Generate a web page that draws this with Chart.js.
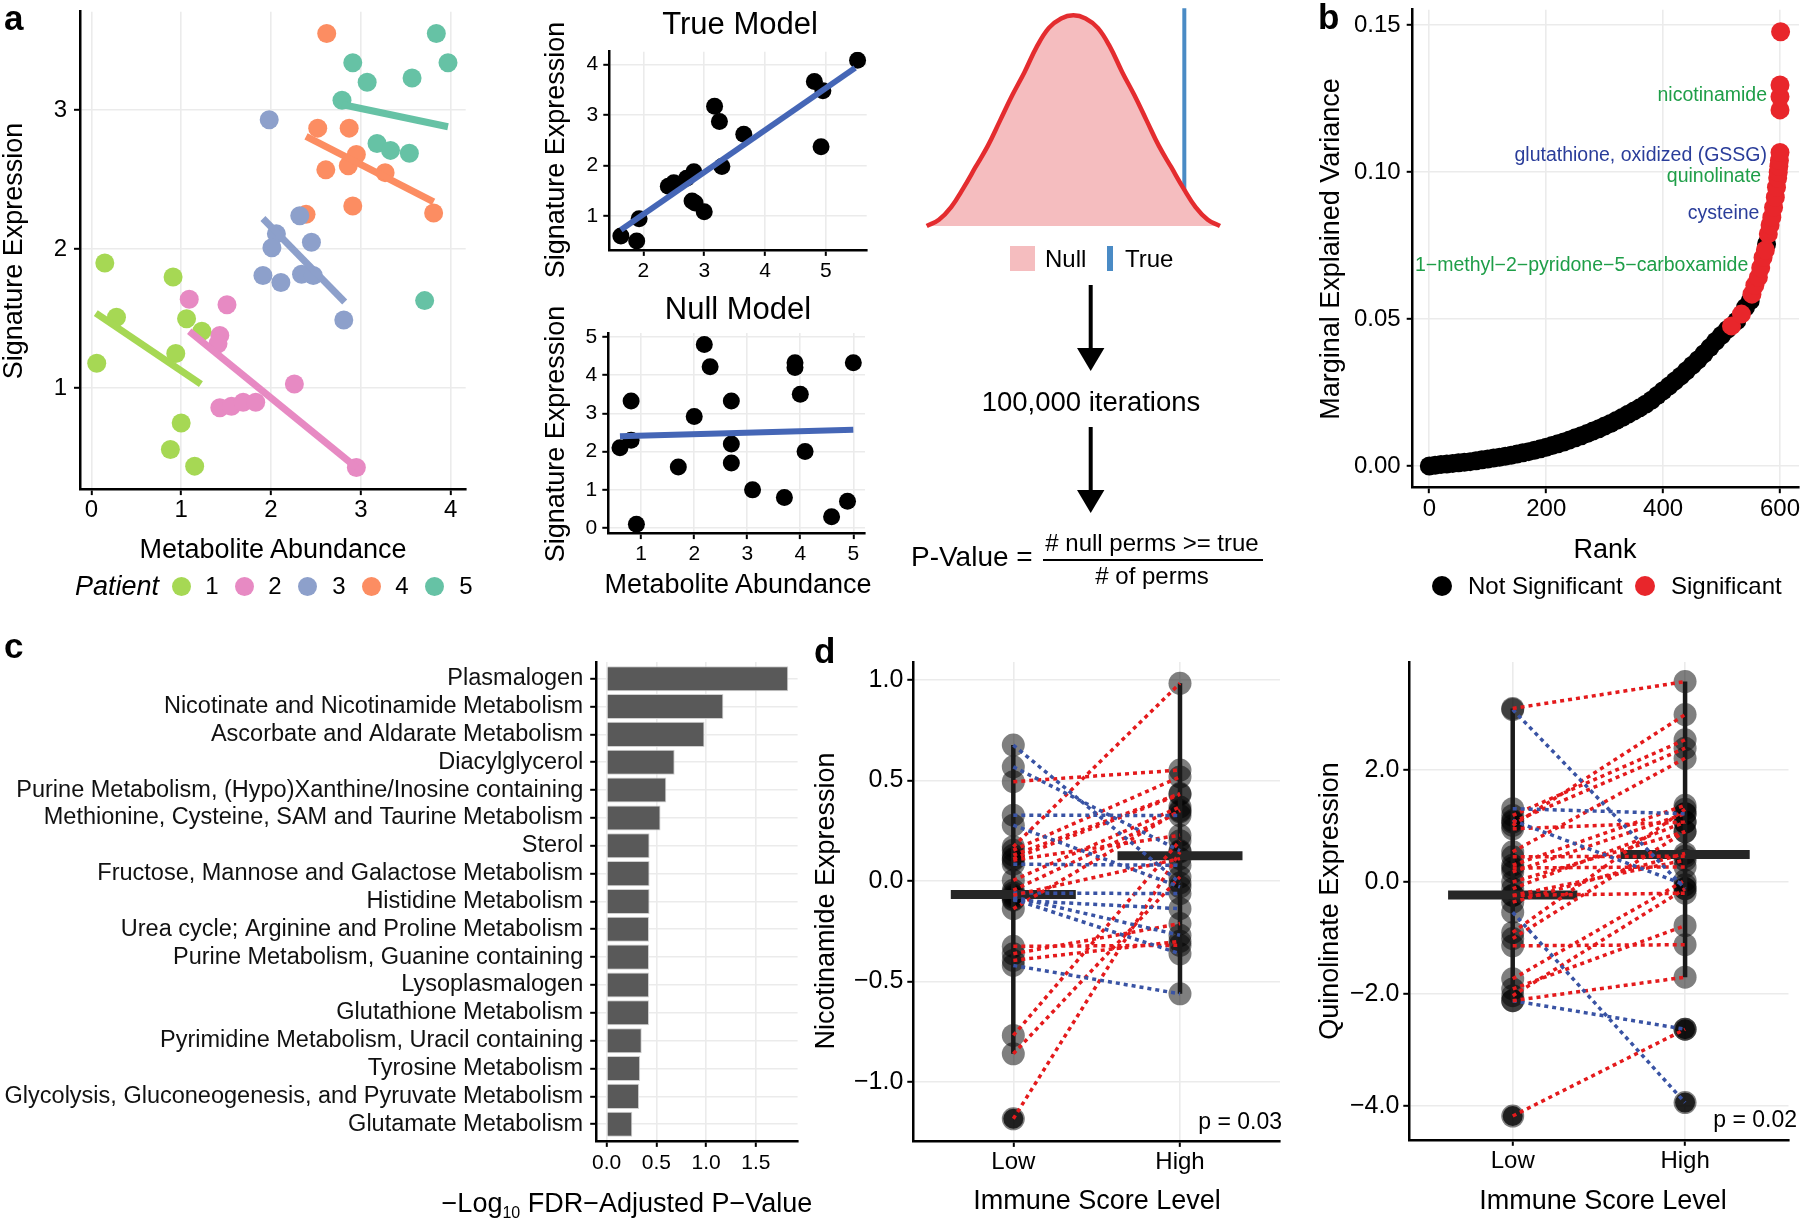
<!DOCTYPE html>
<html>
<head>
<meta charset="utf-8">
<title>Metabolite signature figure</title>
<script src="https://cdn.jsdelivr.net/npm/chart.js@4.4.1/dist/chart.umd.min.js"></script>
<style>
  body { margin: 0; background: #fff; }
  #fig { position: relative; width: 1800px; height: 1219px; overflow: hidden; background: #fff;
         font-family: 'Liberation Sans', Arial, Helvetica, sans-serif; color: #000; }
  #fig canvas { position: absolute; }
  .lbl { position: absolute; white-space: nowrap; line-height: 1; }
  .key { position: absolute; }
</style>
</head>
<body>
<div id="fig">
  <canvas id="patientChart"></canvas>
  <canvas id="trueChart"></canvas>
  <canvas id="nullChart"></canvas>
  <canvas id="densityChart"></canvas>
  <canvas id="rankChart"></canvas>
  <canvas id="pathwayChart"></canvas>
  <canvas id="nicChart"></canvas>
  <canvas id="quinChart"></canvas>
  <svg width="1800" height="1219" style="position:absolute;left:0;top:0;pointer-events:none">
    <line x1="1090.7" y1="285" x2="1090.7" y2="352" stroke="#000" stroke-width="4"/>
    <polygon points="1077,348 1104.4,348 1090.7,371" fill="#000"/>
    <line x1="1090.7" y1="427" x2="1090.7" y2="494" stroke="#000" stroke-width="4"/>
    <polygon points="1077,490 1104.4,490 1090.7,513" fill="#000"/>
  </svg>
</div>
<script>
const FONT = "'Liberation Sans', Arial, Helvetica, sans-serif";
Chart.defaults.font.family = FONT;
Chart.defaults.color = '#000';

const GRID = '#EBEBEB';
const RED = '#E41A1C';
const BLUE = '#3953A4';

/////////////////////////////
// Data
/////////////////////////////

// panel a - metabolite abundance vs signature expression, per patient
const patientIds = ['1', '2', '3', '4', '5'];
const patientColors = ['#A6D854', '#E78AC3', '#8DA0CB', '#FC8D62', '#66C2A5'];
const abundP1 = [0.15, 0.28, 0.06, 0.91, 1.06, 1.23, 0.94, 1.00, 0.88, 1.15];
const exprP1  = [1.90, 1.51, 1.18, 1.80, 1.50, 1.41, 1.25, 0.75, 0.56, 0.44];
const abundP2 = [1.09, 1.51, 1.43, 1.41, 1.43, 1.56, 1.69, 1.83, 2.26, 2.95];
const exprP2  = [1.64, 1.60, 1.38, 1.32, 0.86, 0.87, 0.90, 0.90, 1.03, 0.43];
const abundP3 = [1.98, 2.32, 2.06, 2.01, 2.45, 1.91, 2.11, 2.34, 2.47, 2.81];
const exprP3  = [2.93, 2.24, 2.11, 2.01, 2.05, 1.81, 1.76, 1.82, 1.81, 1.49];
const abundP4 = [2.62, 2.52, 2.87, 2.95, 2.86, 2.61, 3.27, 2.91, 2.39, 3.81];
const exprP4  = [3.55, 2.87, 2.87, 2.68, 2.60, 2.57, 2.55, 2.31, 2.25, 2.26];
const abundP5 = [3.84, 2.91, 3.97, 3.07, 3.57, 2.79, 3.18, 3.33, 3.54, 3.71];
const exprP5  = [3.55, 3.34, 3.34, 3.20, 3.23, 3.07, 2.76, 2.71, 2.69, 1.63];
const fitStartX = [0.05, 1.09, 1.91, 2.39, 2.79];
const fitStartY = [1.54, 1.41, 2.22, 2.81, 3.04];
const fitEndX   = [1.22, 2.95, 2.82, 3.81, 3.97];
const fitEndY   = [1.03, 0.43, 1.62, 2.34, 2.88];

// true model / null model
const trueX = [1.63, 1.89, 1.93, 2.41, 2.50, 2.71, 2.83, 2.80, 2.85, 3.00, 3.17, 3.25, 3.29, 3.65, 4.81, 4.95, 4.92, 5.52];
const trueY = [0.61, 0.51, 0.95, 1.59, 1.66, 1.75, 1.88, 1.30, 1.26, 1.09, 3.17, 2.87, 1.98, 2.62, 3.66, 3.48, 2.37, 4.08];
const trueFitX = [1.63, 5.48];
const trueFitY = [0.73, 3.93];
const nullX = [0.60, 0.81, 0.81, 0.91, 1.70, 2.00, 2.19, 2.30, 2.70, 2.70, 2.70, 3.10, 3.70, 3.90, 3.90, 4.00, 4.09, 4.59, 4.89, 5.00];
const nullY = [2.10, 2.30, 3.32, 0.10, 1.60, 2.92, 4.80, 4.22, 3.32, 2.20, 1.70, 1.00, 0.80, 4.32, 4.20, 3.50, 2.00, 0.30, 0.70, 4.32];
const nullFitX = [0.60, 5.00];
const nullFitY = [2.40, 2.57];

// null distribution sketch
const densityX = [-3, -2.75, -2.5, -2.25, -2, -1.75, -1.5, -1.25, -1, -0.75, -0.5, -0.25, 0,
                  0.25, 0.5, 0.75, 1, 1.25, 1.5, 1.75, 2, 2.25, 2.5, 2.75, 3];
const densityY = [0, 0.03, 0.09, 0.18, 0.28, 0.38, 0.50, 0.62, 0.73, 0.85, 0.94, 0.985, 1,
                  0.985, 0.94, 0.85, 0.73, 0.62, 0.50, 0.38, 0.28, 0.18, 0.09, 0.03, 0];
const trueStat = 2.27;

// panel b - ranked marginal explained variance
const rankNS = [0, 10, 20, 30, 40, 50, 60, 70, 80, 90, 100, 110, 120, 130, 140, 150, 160, 170, 180, 190,
                200, 210, 220, 230, 240, 250, 260, 270, 280, 290, 300, 310, 320, 330, 340, 350, 360, 370, 380, 390,
                400, 410, 420, 430, 440, 450, 460, 470, 480, 490, 500, 510, 526, 541, 549, 577];
const mevNS = [0.0000, 0.0003, 0.0005, 0.0007, 0.0009, 0.0011, 0.0013, 0.0015, 0.0018, 0.0021,
               0.0024, 0.0027, 0.0030, 0.0033, 0.0037, 0.0041, 0.0045, 0.0049, 0.0054, 0.0059,
               0.0064, 0.0070, 0.0076, 0.0082, 0.0089, 0.0096, 0.0103, 0.0111, 0.0119, 0.0127,
               0.0136, 0.0145, 0.0155, 0.0165, 0.0176, 0.0187, 0.0198, 0.0210, 0.0224, 0.0240,
               0.0256, 0.0272, 0.0289, 0.0306, 0.0324, 0.0343, 0.0362, 0.0382, 0.0403, 0.0425,
               0.0445, 0.0465, 0.0494, 0.0540, 0.0562, 0.0756];
const rankSig = [517, 534, 552, 557, 563, 567, 571, 575, 580, 583, 586, 589, 592, 594, 596, 597, 598, 599, 600, 600, 600, 600, 601];
const mevSig = [0.0477, 0.0517, 0.0585, 0.0615, 0.0642, 0.0675, 0.0710, 0.0735, 0.0790, 0.0820, 0.0847, 0.0880,
                0.0915, 0.0949, 0.0980, 0.1000, 0.1020, 0.1040, 0.1067, 0.1212, 0.1257, 0.1297, 0.1478];
const labelNames = ['nicotinamide', 'glutathione, oxidized (GSSG)', 'quinolinate', 'cysteine',
                    '1\u2212methyl\u22122\u2212pyridone\u22125\u2212carboxamide'];
const labelRanks = [600, 600, 590, 587, 568];
const labelValues = [0.1260, 0.1057, 0.0986, 0.0858, 0.0683];
const labelColors = ['#1E9E48', '#2A3D9A', '#1E9E48', '#2A3D9A', '#1E9E48'];

// panel c - pathway enrichment
const pathways = ['Plasmalogen', 'Nicotinate and Nicotinamide Metabolism', 'Ascorbate and Aldarate Metabolism',
  'Diacylglycerol', 'Purine Metabolism, (Hypo)Xanthine/Inosine containing',
  'Methionine, Cysteine, SAM and Taurine Metabolism', 'Sterol', 'Fructose, Mannose and Galactose Metabolism',
  'Histidine Metabolism', 'Urea cycle; Arginine and Proline Metabolism', 'Purine Metabolism, Guanine containing',
  'Lysoplasmalogen', 'Glutathione Metabolism', 'Pyrimidine Metabolism, Uracil containing', 'Tyrosine Metabolism',
  'Glycolysis, Gluconeogenesis, and Pyruvate Metabolism', 'Glutamate Metabolism'];
const pathwayScores = [1.826, 1.174, 0.984, 0.684, 0.600, 0.542, 0.432, 0.432, 0.432, 0.426, 0.426,
                       0.426, 0.426, 0.353, 0.337, 0.326, 0.258];

// panel d - paired low/high immune score
const immuneLevels = ['Low', 'High'];
const nicLow  = [0.675, 0.567, 0.493, 0.327, 0.277, 0.170, 0.153, 0.128, 0.103, 0.083, 0.003, -0.046, -0.071,
                 -0.096, -0.080, -0.090, -0.138, -0.060, -0.325, -0.362, -0.395, -0.420, -0.768, -0.859, -1.182, 0.110];
const nicHigh = [-0.010, 0.150, 0.551, 0.325, -0.030, 0.982, 0.517, 0.434, 0.227, 0.078, 0.368, 0.343, 0.111,
                 -0.138, -0.270, -0.362, 0.350, -0.063, -0.320, -0.212, -0.300, -0.561, 0.200, 0.020, 0.144, 0.430];
const nicMedian = [-0.067, 0.125];
const nicRangeMin = [-0.859, -0.561];
const nicRangeMax = [0.675, 0.982];
const nicOutLow = [-1.182];
const nicOutHigh = [];
const quinLow  = [3.10, 3.08, 1.31, 1.19, 1.07, 1.10, 1.01, 0.95, 0.54, 0.45, 0.30, 0.18, 0.25, 0.00,
                  -0.12, -0.24, -0.24, -0.36, -0.54, -0.90, -1.01, -1.14, -1.73, -1.91, -2.03, -2.12, -2.12, -4.18];
const quinHigh = [3.58, -0.12, 1.22, 2.54, 2.39, -0.05, 2.99, 1.07, 2.21, 0.46, 1.37, 1.22, 0.27, 0.90,
                  1.07, 0.39, -0.20, 0.51, -3.94, 1.30, 0.90, -1.12, 0.03, -0.78, -0.12, -1.70, -2.63, -2.63];
const quinMedian = [-0.23, 0.49];
const quinRangeMin = [-2.15, -1.70];
const quinRangeMax = [3.10, 3.58];
const quinOutLow = [-4.18];
const quinOutHigh = [-2.63, -3.94];

/////////////////////
// Helper functions
/////////////////////

function axis(min, max, step, fontSize, pad, fmt) {
    return {
        type: 'linear', min: min, max: max,
        grid: { color: GRID, lineWidth: 1.6, tickColor: '#000', tickLength: 6, tickWidth: 2 },
        border: { color: '#000', width: 2.5 },
        ticks: { stepSize: step, includeBounds: false, autoSkip: false, padding: pad,
                 color: '#000', font: { size: fontSize }, callback: fmt || (v => v) }
    };
}

function signed(d) {
    return v => (v < 0 ? '\u2212' : '') + Math.abs(v).toFixed(d);
}

// put a chart so that its plot area lands on the given page rectangle
function placeChart(id, box, plot, config) {
    const cv = document.getElementById(id);
    cv.width = box.w;
    cv.height = box.h;
    Object.assign(cv.style, { left: box.x + 'px', top: box.y + 'px', width: box.w + 'px', height: box.h + 'px' });
    const o = config.options;
    o.responsive = false;
    o.animation = false;
    o.events = [];
    o.plugins = Object.assign({ legend: { display: false }, tooltip: { enabled: false } }, o.plugins || {});
    const xh = box.y + box.h - plot.b;
    const yw = plot.l - box.x;
    if (o.scales.x.display === false) {
        o.layout = { padding: { left: plot.l - box.x, right: box.x + box.w - plot.r, top: plot.t - box.y, bottom: xh } };
    } else {
        o.layout = { padding: { left: 0, bottom: 0, top: plot.t - box.y, right: box.x + box.w - plot.r } };
        o.scales.x.afterFit = s => { s.height = xh; s.paddingLeft = 0; s.paddingRight = 0; };
        o.scales.y.afterFit = s => { s.width = yw; s.paddingTop = 0; s.paddingBottom = 0; };
    }
    return new Chart(cv, config);
}

function addText(html, x, y, size, anchor, style) {
    const d = document.createElement('div');
    d.className = 'lbl';
    d.innerHTML = html;
    d.style.left = x + 'px';
    d.style.top = y + 'px';
    d.style.fontSize = size + 'px';
    const tf = { c: 'translate(-50%,-50%)', l: 'translate(0,-50%)', r: 'translate(-100%,-50%)',
                 v: 'translate(-50%,-50%) rotate(-90deg)' };
    d.style.transform = tf[anchor];
    Object.assign(d.style, style || {});
    document.getElementById('fig').appendChild(d);
}

function addKey(x, y, w, h, color, round) {
    const d = document.createElement('div');
    d.className = 'key';
    Object.assign(d.style, { left: x + 'px', top: y + 'px', width: w + 'px', height: h + 'px',
                             background: color, borderRadius: round ? '50%' : '0' });
    document.getElementById('fig').appendChild(d);
}

function pts(xs, ys) {
    return xs.map((x, i) => ({ x: x, y: ys[i] }));
}

/////////////
// Panel a
/////////////

const patientAbund = [abundP1, abundP2, abundP3, abundP4, abundP5];
const patientExpr = [exprP1, exprP2, exprP3, exprP4, exprP5];
const patientSets = [];
patientIds.forEach((p, i) => {
    patientSets.push({ label: 'Patient ' + p, data: pts(patientAbund[i], patientExpr[i]),
        backgroundColor: patientColors[i], borderWidth: 0, pointRadius: 9.5, order: 1 });
});
patientIds.forEach((p, i) => {
    patientSets.push({ label: 'fit ' + p, data: pts([fitStartX[i], fitEndX[i]], [fitStartY[i], fitEndY[i]]),
        showLine: true, borderColor: patientColors[i], borderWidth: 7, pointRadius: 0, order: 0 });
});

placeChart('patientChart', { x: 30, y: 0, w: 450, h: 530 }, { l: 80, t: 11.7, r: 465.7, b: 489.1 }, {
    type: 'scatter',
    data: { datasets: patientSets },
    options: { scales: { x: axis(-0.126, 4.167, 1, 24, 1), y: axis(0.275, 3.707, 1, 24, 7) } }
});

///////////////////////////
// True model / Null model
///////////////////////////

function modelChart(id, box, plot, xs, ys, fx, fy, xr, yr) {
    return placeChart(id, box, plot, {
        type: 'scatter',
        data: {
            datasets: [
                { data: pts(xs, ys), backgroundColor: '#000', borderWidth: 0, pointRadius: 8.5, order: 1 },
                { data: pts(fx, fy), showLine: true, borderColor: '#4566B6', borderWidth: 6, pointRadius: 0, order: 0 }
            ]
        },
        options: { scales: { x: axis(xr[0], xr[1], 1, 21, 3), y: axis(yr[0], yr[1], 1, 21, 5) } }
    });
}

modelChart('trueChart', { x: 565, y: 35, w: 320, h: 255 }, { l: 609.3, t: 51.7, r: 866.7, b: 249.9 },
    trueX, trueY, trueFitX, trueFitY, [1.44, 5.67], [0.334, 4.25]);
modelChart('nullChart', { x: 565, y: 315, w: 320, h: 255 }, { l: 608.3, t: 333, r: 865, b: 533.1 },
    nullX, nullY, nullFitX, nullFitY, [0.38, 5.22], [-0.13, 5.1]);

// null distribution sketch
placeChart('densityChart', { x: 900, y: 0, w: 350, h: 240 }, { l: 926.7, t: 8.3, r: 1220, b: 226 }, {
    type: 'line',
    data: {
        datasets: [
            { data: pts(densityX, densityY), fill: 'origin', backgroundColor: '#F5BDBF', borderColor: '#E42C2F',
              borderWidth: 4.5, pointRadius: 0, tension: 0.4, clip: false },
            { data: pts([trueStat, trueStat], [0, 1.033]), borderColor: '#4A8BC5', borderWidth: 4,
              pointRadius: 0, clip: false }
        ]
    },
    options: { scales: { x: { type: 'linear', display: false, min: -3, max: 3 },
                         y: { type: 'linear', display: false, min: 0, max: 1.033 } } }
});

/////////////
// Panel b
/////////////

const metaboliteLabels = {
    id: 'metaboliteLabels',
    afterDatasetsDraw(chart) {
        const { ctx, scales } = chart;
        ctx.save();
        ctx.font = '19.5px ' + FONT;
        ctx.textAlign = 'right';
        ctx.textBaseline = 'middle';
        labelNames.forEach((name, i) => {
            ctx.fillStyle = labelColors[i];
            ctx.fillText(name, scales.x.getPixelForValue(labelRanks[i]) - 13, scales.y.getPixelForValue(labelValues[i]));
        });
        ctx.restore();
    }
};

placeChart('rankChart', { x: 1350, y: 0, w: 490, h: 530 }, { l: 1412.7, t: 9.7, r: 1799, b: 487.2 }, {
    type: 'scatter',
    data: {
        datasets: [
            { label: 'Not Significant', data: pts(rankNS, mevNS), backgroundColor: '#000', borderWidth: 0, pointRadius: 9.5, order: 1 },
            { label: 'Significant', data: pts(rankSig, mevSig), backgroundColor: '#E8262B', borderWidth: 0, pointRadius: 9.5, order: 0 }
        ]
    },
    options: { scales: { x: axis(-28.4, 632.5, 200, 24, 2), y: axis(-0.0072, 0.1553, 0.05, 24, 6, v => v.toFixed(2)) } },
    plugins: [metaboliteLabels]
});

/////////////
// Panel c
/////////////

const pathwayY = axis(0, 1, 1, 23.5, 7);
pathwayY.type = 'category';
delete pathwayY.min; delete pathwayY.max;
pathwayY.grid.offset = false;
pathwayY.ticks = { autoSkip: false, padding: 7, color: '#111', font: { size: 23.5 } };
// ggplot-style discrete expansion: 0.6 of a category at each end
pathwayY.afterBuildTicks = s => { s._startValue = -0.6; s._valueRange = pathways.length - 1 + 1.2; };

placeChart('pathwayChart', { x: 0, y: 640, w: 815, h: 560 }, { l: 596.2, t: 662, r: 797.6, b: 1140.9 }, {
    type: 'bar',
    data: {
        labels: pathways,
        datasets: [{ data: pathwayScores, backgroundColor: '#595959', borderColor: '#D0D0D0', borderWidth: 1,
                     barPercentage: 0.9, categoryPercentage: 1.0 }]
    },
    options: { indexAxis: 'y', scales: { x: axis(-0.105, 1.92, 0.5, 21, 4, v => v.toFixed(1)), y: pathwayY } }
});

/////////////
// Panel d
/////////////

function pairedChart(id, box, plot, lows, highs, medians, rMin, rMax, outLow, outHigh, yr, yStep) {
    const sets = [];
    lows.forEach((lo, i) => {
        sets.push({ data: pts([1, 2], [lo, highs[i]]), showLine: true, pointRadius: 0,
                    borderColor: highs[i] > lo ? RED : BLUE, borderWidth: 3.5, borderDash: [4, 4], order: 0 });
    });
    [1, 2].forEach((g, k) => {
        sets.push({ data: pts([g - 0.375, g + 0.375], [medians[k], medians[k]]), showLine: true, pointRadius: 0,
                    borderColor: '#262626', borderWidth: 9, order: 1 });
        sets.push({ data: pts([g, g], [rMin[k], rMax[k]]), showLine: true, pointRadius: 0,
                    borderColor: '#1A1A1A', borderWidth: 4.5, order: 2 });
    });
    // extreme values are drawn again as darker dots
    sets.push({ data: pts(outLow.map(() => 1).concat(outHigh.map(() => 2)), outLow.concat(outHigh)),
                backgroundColor: 'rgba(0,0,0,0.75)', borderWidth: 0, pointRadius: 10, order: 2.5 });
    sets.push({ data: pts(lows.map(() => 1).concat(highs.map(() => 2)), lows.concat(highs)),
                backgroundColor: 'rgba(0,0,0,0.5)', borderWidth: 0, pointRadius: 11.5, order: 3 });
    return placeChart(id, box, plot, {
        type: 'scatter',
        data: { datasets: sets },
        options: { scales: { x: axis(0.4, 2.6, 1, 24, 1, v => immuneLevels[v - 1]),
                             y: axis(yr[0], yr[1], yStep, 25, 4, signed(1)) } }
    });
}

pairedChart('nicChart', { x: 845, y: 640, w: 450, h: 560 }, { l: 913.3, t: 662, r: 1280, b: 1140.9 },
    nicLow, nicHigh, nicMedian, nicRangeMin, nicRangeMax, nicOutLow, nicOutHigh, [-1.292, 1.088], 0.5);
pairedChart('quinChart', { x: 1340, y: 640, w: 460, h: 560 }, { l: 1409.3, t: 662, r: 1796.7, b: 1139.8 },
    quinLow, quinHigh, quinMedian, quinRangeMin, quinRangeMax, quinOutLow, quinOutHigh, [-4.605, 3.93], 2);

/////////////////////
// Titles and legends
/////////////////////

const bold = { fontWeight: 'bold' };
addText('a', 4, 17, 35, 'l', bold);
addText('b', 1318, 16, 35, 'l', bold);
addText('c', 4, 645, 35, 'l', bold);
addText('d', 814, 650, 35, 'l', bold);

addText('Signature Expression', 13, 251, 27, 'v');
addText('Metabolite Abundance', 273, 549, 27, 'c');
addText('Patient', 75, 586, 27, 'l', { fontStyle: 'italic' });
const keyX = [181, 244, 307, 371, 434];
const keyLabelX = [212, 275, 339, 402, 466];
patientIds.forEach((p, i) => {
    addKey(keyX[i] - 9.5, 586 - 9.5, 19, 19, patientColors[i], true);
    addText(p, keyLabelX[i], 586, 24, 'c');
});

addText('True Model', 740, 23, 31, 'c');
addText('Signature Expression', 555, 150, 27, 'v');
addText('Null Model', 738, 308, 31, 'c');
addText('Signature Expression', 555, 434, 27, 'v');
addText('Metabolite Abundance', 738, 584, 27, 'c');

addKey(1010, 246, 25, 25, '#F5BDBF', false);
addText('Null', 1045, 259, 24, 'l');
addKey(1107, 246, 6, 25, '#4A8BC5', false);
addText('True', 1125, 259, 24, 'l');
addText('100,000 iterations', 1091, 402, 27.5, 'c');
addText('P-Value =', 911, 557, 28, 'l');
addText('# null perms &gt;= true', 1152, 543, 24, 'c');
addKey(1043, 558.5, 220, 2.5, '#000', false);
addText('# of perms', 1152, 576, 24, 'c');

addText('Marginal Explained Variance', 1330, 249, 27, 'v');
addText('Rank', 1605, 549, 27, 'c');
addKey(1441.7 - 10, 586 - 10, 20, 20, '#000', true);
addText('Not Significant', 1468, 586, 24, 'l');
addKey(1645 - 10, 586 - 10, 20, 20, '#E8262B', true);
addText('Significant', 1671, 586, 24, 'l');

addText('\u2212Log<sub style="font-size:16px;vertical-align:-6px">10</sub> FDR\u2212Adjusted P\u2212Value', 627, 1205, 27, 'c');

addText('Nicotinamide Expression', 825, 901, 27, 'v');
addText('Immune Score Level', 1097, 1200, 27, 'c');
addText('p = 0.03', 1282, 1121, 23, 'r');
addText('Quinolinate Expression', 1329, 901, 27, 'v');
addText('Immune Score Level', 1603, 1200, 27, 'c');
addText('p = 0.02', 1797, 1119, 23, 'r');
</script>
</body>
</html>
